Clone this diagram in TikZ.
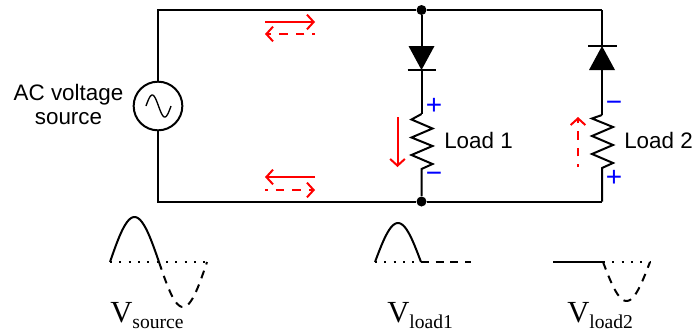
\documentclass[tikz,border=0pt]{standalone}
\usepackage{fontspec}
\setmainfont{Liberation Sans}
\newfontfamily\wavefont{Liberation Serif}
\usetikzlibrary{arrows.meta}
\tikzset{
  wire/.style={line width=1.5pt},
  dotnode/.style={circle,fill=black,inner sep=0pt,minimum size=7.5pt},
  redflow/.style={red,line width=1.5pt,-{Straight Barb[length=5pt,width=11pt,line width=1.5pt]}},
  reddash/.style={redflow,dash pattern=on 6.5pt off 6pt,dash phase=4.5pt},
  polarity/.style={blue,font=\fontsize{21pt}{21pt}\selectfont,inner sep=0pt},
  wave/.style={line width=1.5pt,smooth},
  wavedash/.style={wave,dash pattern=on 6pt off 5pt},
  wavedot/.style={line width=1.5pt,dash pattern=on 1.5pt off 5.5pt},
  bodytext/.style={font=\fontsize{16.8pt}{17.5pt}\selectfont,inner sep=0pt}
}
\newcommand{\wavelabel}[1]{{\wavefont\fontsize{23pt}{23pt}\selectfont V\raisebox{-4.5pt}{\fontsize{14.7pt}{15pt}\selectfont #1}}}
\begin{document}
\begin{tikzpicture}[x=0.75pt,y=-0.75pt]
\useasboundingbox (0,0) rectangle (692,333);
% wires and junctions
\node[dotnode] (jtop) at (421.5,10) {};
\node[dotnode] (jbot) at (421.5,201.5) {};
\node[draw,circle,line width=1.5pt,minimum size=36.5pt,inner sep=0pt] (source) at (158,106) {};
\coordinate (tl) at (158,10);
\coordinate (bl) at (158,201.5);
\coordinate (tr) at (602,10);
\coordinate (br) at (602,201.5);
\draw[wire] (source.north) -- (tl) -- (jtop) -- (tr);
\draw[wire] (source.south) -- (bl) -- (jbot) -- (br);
\draw[line width=1pt,smooth] plot[domain=0:360,samples=40] ({146+25*\x/360},{106-11*sin(\x)});
% branch 1
\coordinate (da) at (421.5,46);
\coordinate (db) at (421.5,70);
\coordinate (ra) at (421.5,114);
\coordinate (rb) at (421.5,169);
\draw[wire] (jtop) -- (da);
\fill (408.5,46) -- (434.5,46) -- (db) -- cycle;
\draw[wire] (407.5,70) -- (436,70);
\draw[wire] (db) -- (ra);
\draw[wire,line join=miter] (ra) -- (411.5,119.5) -- (432.5,128.5) -- (411.5,137.5) -- (432.5,146) -- (411.5,155) -- (432.5,164) -- (rb) -- (jbot);
% branch 2
\coordinate (ea) at (602,46);
\coordinate (eb) at (602,70);
\coordinate (sa) at (602,115);
\coordinate (sb) at (602,168);
\draw[wire] (tr) -- (ea);
\draw[wire] (588,46) -- (616.5,46);
\fill (ea) -- (589,70) -- (615,70) -- cycle;
\draw[wire] (eb) -- (sa);
\draw[wire,line join=miter] (sa) -- (592,118.5) -- (613,127) -- (592,136) -- (613,145) -- (592,154) -- (613,163) -- (sb) -- (br);
% current arrows
\coordinate (a1) at (265,22); \coordinate (a2) at (315,22);
\coordinate (a3) at (315,34); \coordinate (a4) at (265,34);
\coordinate (a5) at (315,177); \coordinate (a6) at (265,177);
\coordinate (a7) at (265,190); \coordinate (a8) at (315,190);
\coordinate (a9) at (397.5,117); \coordinate (a10) at (397.5,167);
\coordinate (a11) at (578,167); \coordinate (a12) at (578,117);
\draw[redflow] (a1) -- (a2);
\draw[reddash] (a3) -- (a4);
\draw[redflow] (a5) -- (a6);
\draw[reddash] (a7) -- (a8);
\draw[redflow] (a9) -- (a10);
\draw[reddash] (a11) -- (a12);
% text
\node[bodytext,align=center] (srclabel) at (68.5,104.5) {AC voltage\\source};
\node[bodytext,anchor=base west] (load1) at (444,148) {Load 1};
\node[bodytext,anchor=base west] (load2) at (624,148) {Load 2};
\node[polarity] (p1) at (434,106.5) {+};
\node[polarity] (m1) at (434,177.5) {\textminus};
\node[polarity] (m2) at (614,106) {\textminus};
\node[polarity] (p2) at (614,178) {+};
% waveforms
\draw[wave] plot[domain=0:180,samples=30] ({110+49*\x/180},{262-45*sin(\x)});
\draw[wavedash] plot[domain=0:180,samples=30] ({159+48*\x/180},{262+45*sin(\x)});
\draw[wavedot] (110,262) -- (207,262);
\draw[wave] plot[domain=0:180,samples=30] ({375+46*\x/180},{262-39*sin(\x)});
\draw[wavedot] (375,262) -- (421,262);
\draw[wavedash] (421,262) -- (471,262);
\draw[wave] (553,262) -- (603,262);
\draw[wavedash] plot[domain=0:180,samples=30] ({603+47*\x/180},{262+39*sin(\x)});
\draw[wavedot] (603,262) -- (650,262);
\node[anchor=base west,inner sep=0pt] (vsource) at (110,322) {\wavelabel{source}};
\node[anchor=base west,inner sep=0pt] (vload1) at (387,322) {\wavelabel{load1}};
\node[anchor=base west,inner sep=0pt] (vload2) at (567,322) {\wavelabel{load2}};
\end{tikzpicture}
\end{document}
